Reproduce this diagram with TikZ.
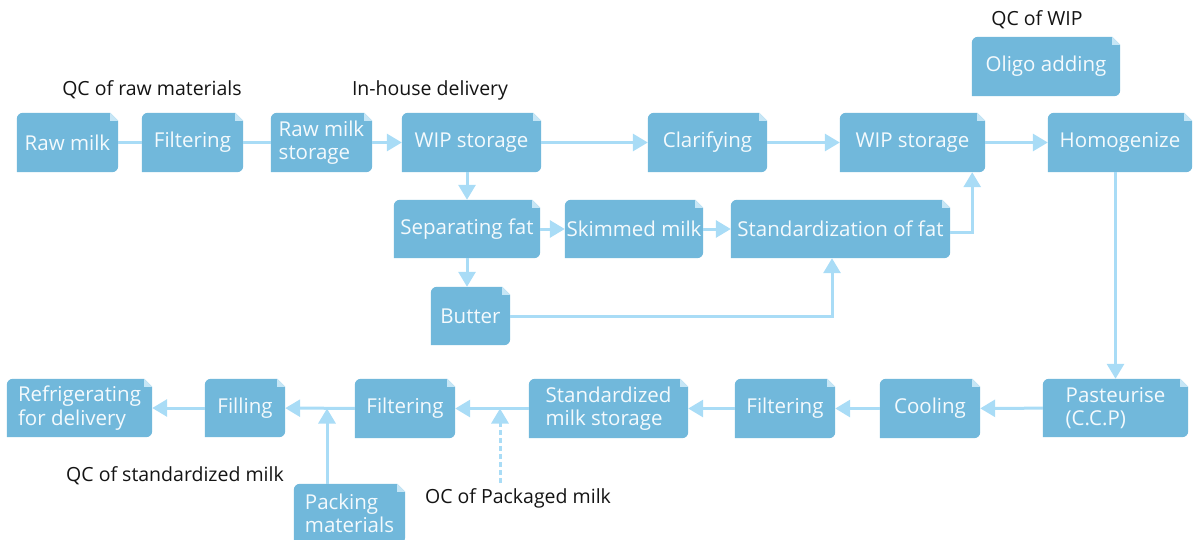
\documentclass[tikz,border=0pt]{standalone}
\usepackage{fontspec}
\setmainfont{Open Sans}
\usetikzlibrary{arrows.meta,backgrounds}
\definecolor{boxfill}{HTML}{71B8DB}
\definecolor{foldfill}{HTML}{C6E6F6}
\definecolor{linkblue}{HTML}{A9DCF6}
\definecolor{boxtext}{HTML}{F4FAFD}
\definecolor{labeltext}{HTML}{141414}
\tikzset{
  notebox/.style={rectangle, inner sep=0pt, align=left, text=boxtext,
    font=\fontsize{20.5}{23.5}\selectfont},
  tag/.style={inner sep=0pt, text=labeltext, font=\fontsize{19.5}{22}\selectfont},
  link/.style={draw=linkblue, line width=3pt},
  flow/.style={link, -{Triangle[length=15pt,width=17pt]}},
  qcflow/.style={flow, dashed, dash pattern=on 5pt off 3pt},
}
% note-shaped background: rounded top-left and bottom-right, folded top-right corner
\newcommand\notefill[1]{%
  \fill[boxfill] (#1.south west) -- ([yshift=-6pt]#1.north west)
    arc[start angle=180,end angle=90,radius=6pt]
    -- ([xshift=-8pt]#1.north east) -- ([yshift=-8pt]#1.north east)
    -- ([yshift=6pt]#1.south east)
    arc[start angle=0,end angle=-90,radius=6pt] -- cycle;
  \fill[foldfill] ([xshift=-8pt]#1.north east)
    -- ([xshift=-8pt,yshift=-8pt]#1.north east)
    -- ([yshift=-8pt]#1.north east) -- cycle;}
\begin{document}
\begin{tikzpicture}[x=1pt,y=1pt]
\useasboundingbox (0,0) rectangle (1198,-540);

% top row
\node[notebox, minimum width=101pt, minimum height=59pt] (rawmilk) at (67.5,-142.5) {Raw milk};
\node[notebox, minimum width=101pt, minimum height=59pt] (filt1) at (192.5,-142.5) {Filtering};
\node[notebox, minimum width=101pt, minimum height=59pt] (rmstor) at (321.5,-142.5) {Raw milk\\storage};
\node[notebox, minimum width=139pt, minimum height=59pt] (wip1) at (471.5,-142.5) {WIP storage};
\node[notebox, minimum width=119pt, minimum height=59pt] (clar) at (707.5,-142.5) {Clarifying};
\node[notebox, minimum width=145pt, minimum height=59pt] (wip2) at (912.5,-142.5) {WIP storage};
\node[notebox, minimum width=144pt, minimum height=59pt] (homog) at (1120,-142.5) {Homogenize};
\node[notebox, minimum width=148pt, minimum height=59pt] (oligo) at (1046,-66.5) {Oligo adding};

% middle rows
\node[notebox, minimum width=146pt, minimum height=58pt] (sepfat) at (467,-229) {Separating fat};
\node[notebox, minimum width=138pt, minimum height=58pt] (skim) at (634,-229) {Skimmed milk};
\node[notebox, minimum width=219pt, minimum height=58pt] (stdfat) at (840.5,-229) {Standardization of fat};
\node[notebox, minimum width=79pt, minimum height=58pt] (butter) at (470.5,-316) {Butter};

% bottom row
\node[notebox, minimum width=145pt, minimum height=58pt] (refrig) at (79.5,-408) {Refrigerating\\for delivery};
\node[notebox, minimum width=80pt, minimum height=58pt] (filling) at (245,-408) {Filling};
\node[notebox, minimum width=100pt, minimum height=59pt] (filt2) at (405,-408.5) {Filtering};
\node[notebox, minimum width=159pt, minimum height=59pt] (stdstor) at (608.5,-408.5) {Standardized\\milk storage};
\node[notebox, minimum width=100pt, minimum height=59pt] (filt3) at (785,-408.5) {Filtering};
\node[notebox, minimum width=100pt, minimum height=59pt] (cooling) at (930,-408.5) {Cooling};
\node[notebox, minimum width=145pt, minimum height=58pt] (past) at (1115.5,-408) {Pasteurise\\(C.C.P)};
\node[notebox, minimum width=111pt, minimum height=59pt] (packing) at (349.5,-513.5) {Packing\\materials};

% free labels
\node[tag] (qcraw) at (152,-90) {QC of raw materials};
\node[tag] (inhouse) at (430,-90) {In-house delivery};
\node[tag] (qcwip) at (1037,-20) {QC of WIP};
\node[tag] (qcstd) at (175,-476) {QC of standardized milk};
\node[tag] (ocpack) at (518,-498) {OC of Packaged milk};

\begin{scope}[on background layer]
  \foreach \n in {rawmilk,filt1,rmstor,wip1,clar,wip2,homog,oligo,sepfat,skim,
                  stdfat,butter,refrig,filling,filt2,stdstor,filt3,cooling,past,packing}
    {\notefill{\n}}
\end{scope}

% junction points on the bottom flow line
\coordinate (packjoin) at (327,-408.5);
\coordinate (qcjoin) at (500,-408.5);
\coordinate (qcfoot) at (500,-483);

% top row flow
\draw[link] (rawmilk) -- (filt1);
\draw[link] (filt1) -- (rmstor);
\draw[flow] (rmstor) -- (wip1);
\draw[flow] (wip1) -- (clar);
\draw[flow] (clar) -- (wip2);
\draw[flow] (wip2) -- (homog);
\draw[flow] (past.north |- homog.south) -- (past.north);

% fat separation branch
\draw[flow] (sepfat.north |- wip1.south) -- (sepfat.north);
\draw[flow] (sepfat) -- (skim);
\draw[flow] (skim) -- (stdfat);
\draw[flow] (sepfat.south) -- (sepfat.south |- butter.north);
\draw[flow] ([yshift=-3pt]stdfat.east) -| ([xshift=-13pt]wip2.south east);
\draw[flow] (butter.east) -| ([xshift=-8.5pt]stdfat.south);

% bottom row flow
\draw[flow] (past) -- (cooling);
\draw[flow] (cooling) -- (filt3);
\draw[flow] (filt3) -- (stdstor);
\draw[flow] (stdstor) -- (filt2);
\draw[flow] (filt2) -- (filling);
\draw[flow] (filling) -- (refrig);
\draw[flow] (packing.north -| packjoin) -- (packjoin);
\draw[qcflow] (qcfoot) -- (qcjoin);
\end{tikzpicture}
\end{document}
